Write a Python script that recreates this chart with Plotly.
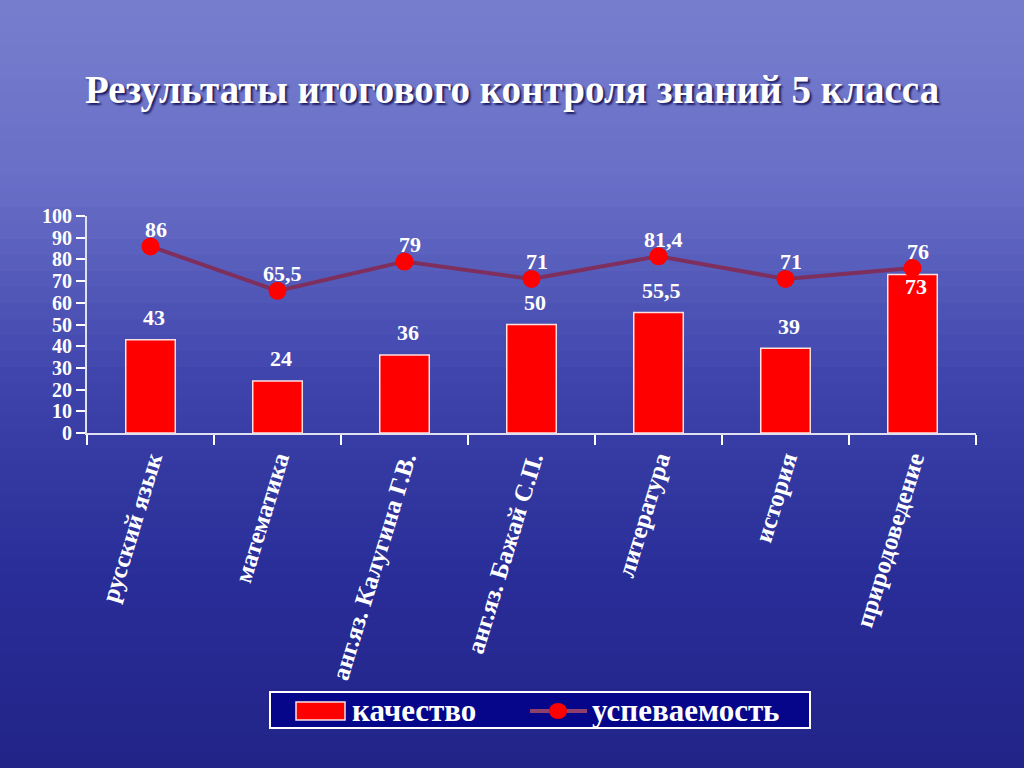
import plotly.graph_objects as go

categories = ["русский язык", "математика", "анг.яз. Калугина Г.В.", "анг.яз. Бажай С.П.",
              "литература", "история", "природоведение"]
quality = [43, 24, 36, 50, 55.5, 39, 73]
progress = [86, 65.5, 79, 71, 81.4, 71, 76]
y_ticks = [0, 10, 20, 30, 40, 50, 60, 70, 80, 90, 100]
series_names = ["качество", "успеваемость"]

W, H = 1024, 768
SERIF = "Times New Roman, Liberation Serif, serif"

def fmt(v):
    return ("%g" % v).replace(".", ",")

def px(x):
    return x / W

def py(y):
    return 1 - y / H

fig = go.Figure()

# background gradient strips (paper coords = full figure because margins are 0)
stops = [(0.0, (120, 126, 206)), (0.25, (104, 110, 198)), (0.5, (62, 68, 172)),
         (0.75, (42, 46, 152)), (1.0, (34, 36, 136))]
N = 48
for i in range(N):
    t = (i + 0.5) / N
    for j in range(len(stops) - 1):
        if stops[j][0] <= t <= stops[j + 1][0]:
            a, ca = stops[j]
            b, cb = stops[j + 1]
            f = (t - a) / (b - a)
            c = tuple(int(ca[k] + (cb[k] - ca[k]) * f) for k in range(3))
            break
    fig.add_shape(type="rect", xref="paper", yref="paper",
                  x0=0, x1=1, y0=1 - (i + 1) / N, y1=1 - i / N + 0.001,
                  fillcolor="rgb(%d,%d,%d)" % c, line_width=0, layer="below")

fig.add_trace(go.Bar(
    x=categories, y=quality, name=series_names[0],
    marker=dict(color="#FF0000", line=dict(color="#FFE0E0", width=1.5)),
    width=0.39,
))
fig.add_trace(go.Scatter(
    x=categories, y=progress, name=series_names[1], mode="lines+markers",
    line=dict(color="#7E2F5E", width=4),
    marker=dict(color="#FF0000", size=18, line=dict(width=0)),
))

LBL = dict(family=SERIF, size=22, color="white", weight="bold")
ann = []
for c, v in zip(categories, quality):
    shift = -12 if v > 70 else 22
    ann.append(dict(x=c, y=v, text=fmt(v), showarrow=False, yshift=shift, xshift=3, font=LBL))
for c, v in zip(categories, progress):
    ann.append(dict(x=c, y=v, text=fmt(v), showarrow=False, yshift=17, xshift=5, font=LBL))
ann.append(dict(xref="paper", yref="paper", x=0.5, y=py(90), yanchor="middle",
                text="Результаты итогового контроля знаний 5 класса", showarrow=False,
                font=dict(family=SERIF, size=39, color="white", weight="bold",
                          shadow="2px 2px 2px #1c1c60")))

# custom legend (box, swatches, labels)
LEG = dict(family=SERIF, size=31, color="white", weight="bold")
fig.add_shape(type="rect", xref="paper", yref="paper", x0=px(270), x1=px(810), y0=py(728), y1=py(692),
              fillcolor="#06068A", line=dict(color="white", width=2))
fig.add_shape(type="rect", xref="paper", yref="paper", x0=px(296), x1=px(345), y0=py(720), y1=py(702),
              fillcolor="#FF0000", line=dict(color="#FFE0E0", width=1.5))
fig.add_shape(type="line", xref="paper", yref="paper", x0=px(530), x1=px(587), y0=py(711), y1=py(711),
              line=dict(color="#8E3F6E", width=4))
fig.add_shape(type="circle", xref="paper", yref="paper", x0=px(549), x1=px(567), y0=py(719), y1=py(703),
              fillcolor="#FF0000", line_width=0)
ann.append(dict(xref="paper", yref="paper", x=px(350), y=py(710), xanchor="left", yanchor="middle",
                text=series_names[0], showarrow=False, font=LEG))
ann.append(dict(xref="paper", yref="paper", x=px(590), y=py(710), xanchor="left", yanchor="middle",
                text=series_names[1], showarrow=False, font=LEG))

fig.update_layout(
    width=W, height=H,
    margin=dict(l=0, r=0, t=0, b=0, pad=0, autoexpand=False),
    paper_bgcolor="#3c42aa",
    plot_bgcolor="#C0C0C0",
    separators=", ",
    showlegend=False,
    annotations=ann,
    xaxis=dict(domain=[px(87), px(976)], showgrid=False, tickangle=-73, automargin=False,
               tickson="boundaries", ticks="outside", ticklen=10, tickcolor="white", tickwidth=2,
               showline=True, linecolor="#E0E0F0", linewidth=2,
               tickfont=dict(family=SERIF, size=25, color="white", weight="bold")),
    yaxis=dict(domain=[py(433), py(216)], range=[0, 100], tickvals=y_ticks, automargin=False,
               showgrid=False, ticks="outside", ticklen=9, tickcolor="white", tickwidth=2,
               showline=True, linecolor="#E0E0F0", linewidth=2, zeroline=False,
               tickfont=dict(family=SERIF, size=20, color="white", weight="bold")),
    bargap=0.61,
)

fig.write_html("out.html", config={"displayModeBar": False},
               post_script="document.body.style.margin='0px';document.body.style.overflow='hidden';")
